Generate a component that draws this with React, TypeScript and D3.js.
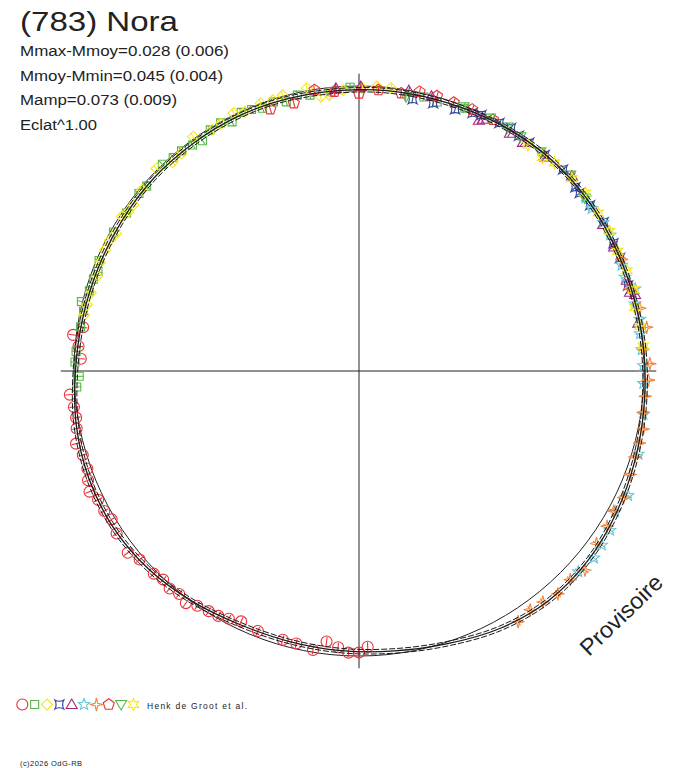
import * as d3 from "d3";

// phase (0 = top, clockwise) and relative radius (1 = mean circle)
const circlePhase = [0.495, 0.5, 0.506, 0.512, 0.519, 0.526, 0.536, 0.544, 0.559, 0.57, 0.577, 0.583, 0.589, 0.596, 0.602, 0.608, 0.614, 0.62, 0.626, 0.637, 0.644, 0.656, 0.664, 0.67, 0.677, 0.683, 0.689, 0.695, 0.703, 0.71, 0.718, 0.724, 0.73, 0.737, 0.757, 0.764, 0.77, 0.775];
const circleRadius = [0.968, 0.988, 0.989, 0.972, 0.956, 0.992, 0.981, 0.98, 0.979, 0.971, 0.982, 0.991, 0.994, 1.0, 1.016, 1.005, 1.012, 1.004, 1.012, 1.015, 1.032, 1.024, 1.012, 1.02, 1.021, 1.036, 1.025, 1.013, 1.013, 1.025, 1.011, 1.006, 1.008, 1.018, 0.977, 0.988, 1.011, 0.98];

const squarePhase = [0.741, 0.747, 0.755, 0.761, 0.775, 0.784, 0.789, 0.796, 0.803, 0.808, 0.814, 0.832, 0.845, 0.858, 0.864, 0.879, 0.886, 0.892, 0.899, 0.905, 0.912, 0.919, 0.925, 0.932, 0.938, 0.944, 0.951, 0.958, 0.965, 0.972, 0.984, 0.995, 0.037, 0.045, 0.061];
const squareRadius = [0.992, 0.982, 0.997, 0.995, 0.989, 0.989, 1.004, 0.987, 0.986, 0.98, 0.991, 0.99, 0.986, 0.992, 0.988, 1.001, 0.993, 0.992, 0.985, 0.977, 0.994, 0.997, 0.981, 0.997, 0.992, 0.982, 0.991, 0.978, 0.992, 0.983, 0.985, 0.996, 0.988, 0.983, 0.994];

const diamondPhase = [0.782, 0.788, 0.795, 0.805, 0.813, 0.821, 0.827, 0.832, 0.842, 0.846, 0.851, 0.861, 0.875, 0.884, 0.891, 0.902, 0.913, 0.919, 0.928, 0.934, 0.944, 0.951, 0.957, 0.971, 0.978, 0.983, 0.991, 0.002, 0.01, 0.018];
const diamondRadius = [0.985, 0.983, 0.98, 0.978, 0.986, 0.987, 0.987, 0.98, 0.993, 0.984, 0.983, 0.991, 1.005, 0.982, 0.985, 1.007, 0.991, 0.994, 1.006, 0.994, 1.001, 0.997, 1.004, 1.009, 0.972, 0.974, 0.987, 0.992, 1.0, 0.999];

const crossPhase = [0.031, 0.043, 0.056, 0.066, 0.071, 0.082, 0.089, 0.095, 0.102, 0.113, 0.126, 0.138, 0.142, 0.151, 0.163, 0.176, 0.185, 0.201];
const crossRadius = [0.972, 0.975, 0.978, 0.989, 0.996, 1.0, 1.006, 0.998, 0.999, 1.0, 1.006, 0.996, 0.995, 0.998, 1.005, 0.999, 0.998, 0.991];

const trianglePhase = [0.987, 0.001, 0.028, 0.041, 0.071, 0.073, 0.09, 0.099, 0.114, 0.132, 0.164, 0.178, 0.198, 0.205, 0.207, 0.223];
const triangleRadius = [0.995, 0.998, 0.999, 0.997, 0.975, 0.985, 0.988, 0.987, 0.996, 1.013, 0.999, 0.995, 0.992, 0.99, 1.005, 0.994];

const starPhase = [0.146, 0.153, 0.163, 0.171, 0.189, 0.196, 0.204, 0.212, 0.221, 0.229, 0.238, 0.247, 0.257, 0.274, 0.296, 0.319, 0.33, 0.34, 0.349, 0.357, 0.368];
const starRadius = [1.001, 0.996, 1.003, 1.002, 0.994, 0.99, 1.011, 0.997, 1.002, 0.995, 0.995, 0.998, 0.999, 1.009, 1.023, 1.04, 1.025, 1.043, 1.048, 1.053, 1.043];

const sparkPhase = [0.186, 0.203, 0.215, 0.226, 0.238, 0.246, 0.255, 0.264, 0.273, 0.282, 0.29, 0.298, 0.308, 0.321, 0.33, 0.339, 0.35, 0.365, 0.374, 0.384, 0.393, 0.401, 0.41];
const sparkRadius = [1.001, 0.994, 1.01, 1.021, 1.0, 1.021, 1.016, 1.008, 1.008, 1.018, 1.016, 1.014, 1.019, 1.029, 1.02, 1.027, 1.03, 1.057, 1.042, 1.048, 1.036, 1.031, 1.042];

const pentagonPhase = [0.948, 0.962, 0.975, 0.986, 0.0, 0.011, 0.024, 0.034, 0.044, 0.054, 0.065, 0.078];
const pentagonRadius = [0.97, 0.967, 0.998, 0.984, 0.974, 0.988, 0.986, 1.003, 1.003, 0.999, 1.0, 0.999];

const downPhase = [0.027, 0.06, 0.076, 0.087, 0.096, 0.11, 0.131, 0.146];
const downRadius = [0.977, 0.997, 0.999, 1.002, 0.998, 0.998, 1.011, 0.998];

const hexPhase = [0.102, 0.113, 0.12, 0.133, 0.144, 0.157, 0.169, 0.181, 0.193, 0.204, 0.214, 0.225, 0.236];
const hexRadius = [0.991, 0.988, 1.002, 1.007, 1.011, 1.006, 1.007, 1.0, 1.004, 1.004, 0.993, 0.998, 1.001];

// fitted curve
const fitPhase = [0.0, 0.03, 0.06, 0.09, 0.12, 0.15, 0.18, 0.21, 0.24, 0.27, 0.3, 0.33, 0.36, 0.39, 0.42, 0.45, 0.48, 0.51, 0.54, 0.57, 0.6, 0.63, 0.66, 0.69, 0.72, 0.75, 0.78, 0.81, 0.84, 0.87, 0.9, 0.93, 0.96];
const fitRadius = [0.987, 0.989, 0.992, 0.998, 1.003, 1.002, 0.998, 0.998, 1.002, 1.008, 1.018, 1.031, 1.043, 1.045, 1.03, 1.006, 0.99, 0.983, 0.98, 0.983, 0.998, 1.014, 1.022, 1.02, 1.01, 0.995, 0.987, 0.984, 0.985, 0.988, 0.988, 0.989, 0.988];

const infoLines = ["Mmax-Mmoy=0.028 (0.006)", "Mmoy-Mmin=0.045 (0.004)", "Mamp=0.073 (0.009)", "Eclat^1.00"];
const infoWidths = [209, 203, 157, 77];

const FONT = "'Liberation Sans', Arial, Helvetica, sans-serif";
const cx = 359;
const cy = 371;

const series = [
  { shape: "circle", color: "#e8323c", phase: circlePhase, radius: circleRadius },
  { shape: "square", color: "#58b847", phase: squarePhase, radius: squareRadius },
  { shape: "diamond", color: "#f6e81a", phase: diamondPhase, radius: diamondRadius },
  { shape: "cross", color: "#34499c", phase: crossPhase, radius: crossRadius },
  { shape: "triangle", color: "#a4277e", phase: trianglePhase, radius: triangleRadius },
  { shape: "star", color: "#66c6dc", phase: starPhase, radius: starRadius },
  { shape: "spark", color: "#f2863a", phase: sparkPhase, radius: sparkRadius },
  { shape: "pentagon", color: "#e8323c", phase: pentagonPhase, radius: pentagonRadius },
  { shape: "down", color: "#58b847", phase: downPhase, radius: downRadius },
  { shape: "hex", color: "#f6e81a", phase: hexPhase, radius: hexRadius },
];

function poly(pts: number[][]) {
  return "M" + pts.map((p) => p[0].toFixed(2) + "," + p[1].toFixed(2)).join("L") + "Z";
}

function starPts(n: number, ro: number, ri: number, rot = 0) {
  const pts: number[][] = [];
  for (let i = 0; i < n * 2; i++) {
    const a = rot + (i * Math.PI) / n;
    const r = i % 2 === 0 ? ro : ri;
    pts.push([r * Math.sin(a), -r * Math.cos(a)]);
  }
  return pts;
}

function shapePath(shape: string) {
  switch (shape) {
    case "circle":
      return d3.symbol(d3.symbolCircle, Math.PI * 5.5 * 5.5)() as string;
    case "square":
      return poly([[-4, -4], [4, -4], [4, 4], [-4, 4]]);
    case "diamond":
      return poly([[0, -5.5], [5.5, 0], [0, 5.5], [-5.5, 0]]);
    case "cross":
      return "M-4.5,-4.5Q0,-2 4.5,-4.5Q2,0 4.5,4.5Q0,2 -4.5,4.5Q-2,0 -4.5,-4.5Z";
    case "triangle":
      return poly([[0, -5.5], [5.5, 4], [-5.5, 4]]);
    case "star":
      return poly(starPts(5, 6, 2.6));
    case "spark":
      return poly(starPts(4, 6.5, 1.8));
    case "pentagon":
      return poly(starPts(5, 5.8, 5.8 * Math.cos(Math.PI / 5)).filter((_, i) => i % 2 === 0));
    case "down":
      return poly([[-5.5, -4], [5.5, -4], [0, 5.5]]);
    default:
      return poly(starPts(6, 6, 3));
  }
}

export default function App() {
  const angle = d3.scaleLinear().domain([0, 1]).range([0, 2 * Math.PI]);
  const rScale = d3.scaleLinear().domain([0, 1]).range([0, 285]);

  const fitData = fitPhase.map((p, i) => ({ p, r: fitRadius[i] }));
  const fitLine = (k: number) =>
    d3
      .lineRadial<{ p: number; r: number }>()
      .angle((d) => angle(d.p))
      .radius((d) => rScale(d.r * k))
      .curve(d3.curveCatmullRomClosed)(fitData) as string;

  const axisLen = rScale(1.043);

  return (
    <svg
      width={688}
      height={768}
      style={{ position: "absolute", left: 0, top: 0, background: "#fff" }}
      fontFamily={FONT}
    >
      <text x={20} y={31} fontSize={28} fill="#222" textLength={158} lengthAdjust="spacingAndGlyphs">
        (783) Nora
      </text>
      {infoLines.map((t, i) => (
        <text
          key={t}
          x={20}
          y={56 + i * 24.7}
          fontSize={15.5}
          fill="#222"
          textLength={infoWidths[i]}
          lengthAdjust="spacingAndGlyphs"
        >
          {t}
        </text>
      ))}

      <g transform={`translate(${cx},${cy})`}>
        <line x1={-axisLen - 1} x2={axisLen} y1={0} y2={0} stroke="#222" strokeWidth={1} />
        <line x1={0} x2={0} y1={-axisLen} y2={axisLen} stroke="#222" strokeWidth={1} />
        <circle r={rScale(1)} fill="none" stroke="#222" strokeWidth={1} />

        {series.map((s, si) => (
          <g key={si} stroke={s.color} fill="none" strokeWidth={1.1}>
            {s.phase.map((p, i) => {
              const [x, y] = d3.pointRadial(angle(p), rScale(s.radius[i]));
              const [x1, y1] = d3.pointRadial(angle(p), rScale(s.radius[i]) - 4.5);
              const [x2, y2] = d3.pointRadial(angle(p), rScale(s.radius[i]) + 4.5);
              return (
                <g key={i}>
                  <path d={shapePath(s.shape)} transform={`translate(${x},${y})`} />
                  <line x1={x1} y1={y1} x2={x2} y2={y2} />
                </g>
              );
            })}
          </g>
        ))}

        <path d={fitLine(1)} fill="none" stroke="#1a1a1a" strokeWidth={1.3} />
        <path d={fitLine(1.008)} fill="none" stroke="#1a1a1a" strokeWidth={1} strokeDasharray="6 2" />
        <path d={fitLine(0.992)} fill="none" stroke="#1a1a1a" strokeWidth={1} strokeDasharray="6 2" />
      </g>

      <text
        x={0}
        y={0}
        fontSize={23}
        fill="#222"
        transform="translate(589,657) rotate(-44)"
        textLength={105}
        lengthAdjust="spacingAndGlyphs"
      >
        Provisoire
      </text>

      {series.map((s, i) => (
        <path
          key={i}
          d={shapePath(s.shape)}
          transform={`translate(${22.3 + i * 12.35},704.5)`}
          fill="none"
          stroke={s.color}
          strokeWidth={1.1}
        />
      ))}
      <text x={147} y={708.5} fontSize={8.5} fill="#222" textLength={100} lengthAdjust="spacing">
        Henk de Groot et al.
      </text>
      <text x={20} y={766} fontSize={7.5} fill="#222" textLength={62} lengthAdjust="spacing">
        (c)2026 OdG-RB
      </text>
    </svg>
  );
}
